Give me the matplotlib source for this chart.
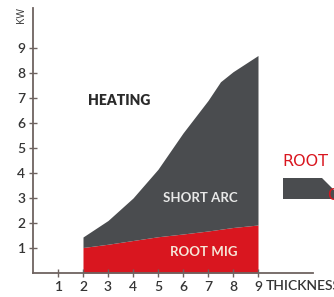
import numpy as np
import matplotlib.pyplot as plt
from matplotlib.patches import Polygon

# thickness vs kW
thickness = [2, 3, 4, 5, 6, 7, 7.5, 8, 9]
short_arc = [1.44, 2.1, 3.0, 4.15, 5.6, 6.9, 7.65, 8.05, 8.7]
root_mig = [1.02, 1.15, 1.3, 1.45, 1.56, 1.68, 1.75, 1.82, 1.92]
x_ticks = [1, 2, 3, 4, 5, 6, 7, 8, 9]
y_ticks = [1, 2, 3, 4, 5, 6, 7, 8, 9]

red = '#d9161f'
dark = '#4a4c4f'
axis_col = '#6e6360'
txt_col = '#353535'

fig = plt.figure(figsize=(3.34, 2.97), dpi=100)
ax = fig.add_axes([33 / 334, 24 / 297, 280 / 334, 265 / 297])

ax.fill_between(thickness, 0, root_mig, color=red, lw=0)
ax.fill_between(thickness, root_mig, short_arc, color=dark, lw=0)

ax.set_xlim(0, 11.2)
ax.set_ylim(0, 10.6)
ax.set_xticks(x_ticks)
ax.set_yticks(y_ticks)
for s in ['top', 'right']:
    ax.spines[s].set_visible(False)
for s in ['left', 'bottom']:
    ax.spines[s].set_color(axis_col)
    ax.spines[s].set_linewidth(1.3)
ax.tick_params(direction='inout', length=6, width=1, color=axis_col,
               labelsize=10, labelcolor=txt_col, pad=2.5)
for lab in ax.get_xticklabels() + ax.get_yticklabels():
    lab.set_family('Lato')
    lab.set_fontweight('semibold')

ax.text(9.33, -0.5, 'THICKNESS', ha='left', va='center', fontsize=10,
        fontweight='semibold', color=txt_col, family='Lato', clip_on=False)
ax.text(-0.45, 10.3, 'KW', rotation=90, ha='center', va='center',
        fontsize=7.5, color=txt_col, family='Open Sans', clip_on=False)

ax.text(3.44, 6.9, 'HEATING', ha='center', va='center', fontsize=10,
        fontweight='heavy', color='#2a2a2a', family='Lato')
ax.text(6.68, 3.0, 'SHORT ARC', ha='center', va='center', fontsize=9.5,
        fontweight='bold', color='#e8e8e8', family='Lato')
ax.text(6.84, 0.84, 'ROOT MIG', ha='center', va='center', fontsize=9.5,
        fontweight='bold', color='#f6e7d8', family='Lato')

# cut-off legend piece on the right
fig.text(282 / 334, 1 - 161 / 297, 'ROOT', ha='left', va='center',
         fontsize=11.5, color=red, family='DejaVu Sans')
pts = [(283, 178), (322, 178), (334, 190), (334, 199), (283, 199)]
fig.patches.append(Polygon([(px / 334, 1 - py / 297) for px, py in pts],
                           closed=True, transform=fig.transFigure,
                           color=dark, lw=0))
fig.text(327 / 334, 1 - 195 / 297, 'C', ha='left', va='center',
         fontsize=11, color=red, family='DejaVu Sans')

fig.savefig('out.png', dpi=100)
